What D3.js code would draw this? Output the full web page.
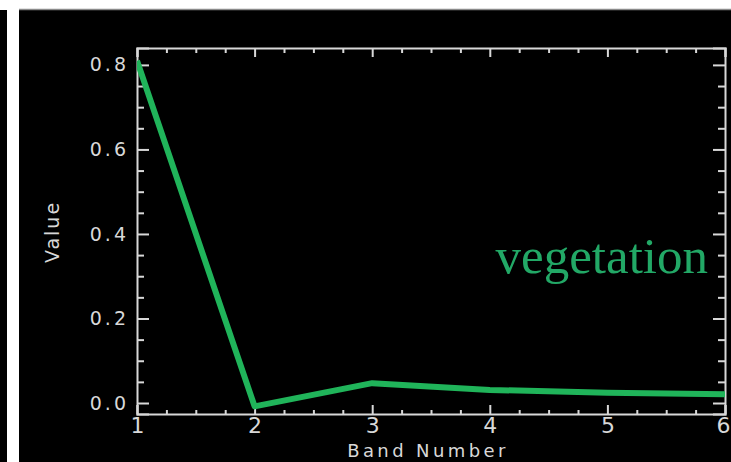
<!DOCTYPE html>
<html>
<head>
<meta charset="utf-8">
<script src="https://cdn.jsdelivr.net/npm/d3@7"></script>
<style>
  html, body { margin: 0; padding: 0; background: #fff; }
  svg { display: block; }
</style>
</head>
<body>
<svg id="chart" width="731" height="462"></svg>
<script>
// Spectral profile: mean value per band
const bands = [1, 2, 3, 4, 5, 6];
const values = [0.81, -0.008, 0.047, 0.031, 0.024, 0.021];
const yMajorTicks = [0.0, 0.2, 0.4, 0.6, 0.8];
const xMajorTicks = [1, 2, 3, 4, 5, 6];
const seriesLabel = "vegetation";

const W = 731, H = 462;
const svg = d3.select("#chart");

// Page framing: white strips with a dark panel behind the plot
svg.append("rect").attr("x", 0).attr("y", 0).attr("width", W).attr("height", H).attr("fill", "#ffffff");
svg.append("rect").attr("x", 0).attr("y", 10).attr("width", 7).attr("height", H - 10).attr("fill", "#000");
svg.append("rect").attr("x", 19).attr("y", 10).attr("width", W - 19).attr("height", H - 10).attr("fill", "#000");
svg.append("line").attr("x1", 19).attr("x2", W).attr("y1", 9.5).attr("y2", 9.5)
  .attr("stroke", "#8a8a8a").attr("stroke-width", 1.5);

const plot = { left: 137, right: 725, top: 48, bottom: 414 };
const x = d3.scaleLinear().domain([1, 6]).range([plot.left, plot.right]);
const y = d3.scaleLinear().domain([-0.026, 0.84]).range([plot.bottom, plot.top]);

const axisColor = "#d8d8d8";
const yMinor = d3.range(0.05, 0.8, 0.05).filter(v => Math.round(v * 100) % 20 !== 0);
const xMinor = d3.range(1, 6.001, 0.25).filter(v => Math.abs(v - Math.round(v)) > 1e-6);

function styleAxis(g) {
  g.selectAll("path.domain").attr("stroke", axisColor).attr("stroke-width", 2);
  g.selectAll(".tick line").attr("stroke", axisColor).attr("stroke-width", 2);
  g.selectAll(".tick text").attr("fill", axisColor);
}

// Left axis (ticks pointing inward)
const gLeft = svg.append("g").attr("transform", `translate(${plot.left},0)`)
  .call(d3.axisLeft(y).tickValues(yMajorTicks).tickSize(-12).tickPadding(8)
    .tickFormat(d3.format(".1f")));
gLeft.selectAll(".tick text").attr("font-family", "DejaVu Sans").attr("font-size", 19)
  .attr("letter-spacing", 3);
styleAxis(gLeft);
svg.append("g").attr("transform", `translate(${plot.left},0)`)
  .call(d3.axisLeft(y).tickValues(yMinor).tickSize(-7).tickFormat(""))
  .call(g => g.select("path.domain").remove()).call(styleAxis);

// Right axis (mirror ticks)
const gRight = svg.append("g").attr("transform", `translate(${plot.right},0)`)
  .call(d3.axisRight(y).tickValues(yMajorTicks).tickSize(-12).tickFormat(""));
styleAxis(gRight);
svg.append("g").attr("transform", `translate(${plot.right},0)`)
  .call(d3.axisRight(y).tickValues(yMinor).tickSize(-7).tickFormat(""))
  .call(g => g.select("path.domain").remove()).call(styleAxis);

// Bottom axis
const gBottom = svg.append("g").attr("transform", `translate(0,${plot.bottom})`)
  .call(d3.axisBottom(x).tickValues(xMajorTicks).tickSize(-9).tickPadding(3)
    .tickFormat(d3.format("d")));
gBottom.selectAll(".tick text").attr("font-family", "DejaVu Sans").attr("font-size", 22);
gBottom.selectAll(".tick:last-of-type text").attr("dx", -2);
styleAxis(gBottom);
svg.append("g").attr("transform", `translate(0,${plot.bottom})`)
  .call(d3.axisBottom(x).tickValues(xMinor).tickSize(-4).tickFormat(""))
  .call(g => g.select("path.domain").remove()).call(styleAxis);

// Top axis
const gTop = svg.append("g").attr("transform", `translate(0,${plot.top})`)
  .call(d3.axisTop(x).tickValues(xMajorTicks).tickSize(-9).tickFormat(""));
styleAxis(gTop);
svg.append("g").attr("transform", `translate(0,${plot.top})`)
  .call(d3.axisTop(x).tickValues(xMinor).tickSize(-5).tickFormat(""))
  .call(g => g.select("path.domain").remove()).call(styleAxis);

// Axis titles
svg.append("text").attr("x", 428).attr("y", 457).attr("text-anchor", "middle")
  .attr("font-family", "DejaVu Sans").attr("font-size", 18).attr("letter-spacing", 3.4)
  .attr("fill", axisColor).text("Band Number");
svg.append("text").attr("transform", "translate(59,232) rotate(-90)").attr("text-anchor", "middle")
  .attr("font-family", "DejaVu Sans").attr("font-size", 19).attr("letter-spacing", 2)
  .attr("fill", axisColor).text("Value");

// Spectral line
svg.append("defs").append("clipPath").attr("id", "plotClip")
  .append("rect").attr("x", plot.left).attr("y", plot.top)
  .attr("width", plot.right - plot.left).attr("height", plot.bottom - plot.top);
const line = d3.line().x((d, i) => x(bands[i])).y(d => y(d));
svg.append("path").datum(values).attr("d", line)
  .attr("clip-path", "url(#plotClip)")
  .attr("fill", "none").attr("stroke", "#20b45a").attr("stroke-width", 6)
  .attr("stroke-linejoin", "round");

// Series label
svg.append("text").attr("x", 708).attr("y", 273).attr("text-anchor", "end")
  .attr("font-family", "Liberation Serif").attr("font-size", 51)
  .attr("fill", "#22a866").text(seriesLabel);
</script>
</body>
</html>
